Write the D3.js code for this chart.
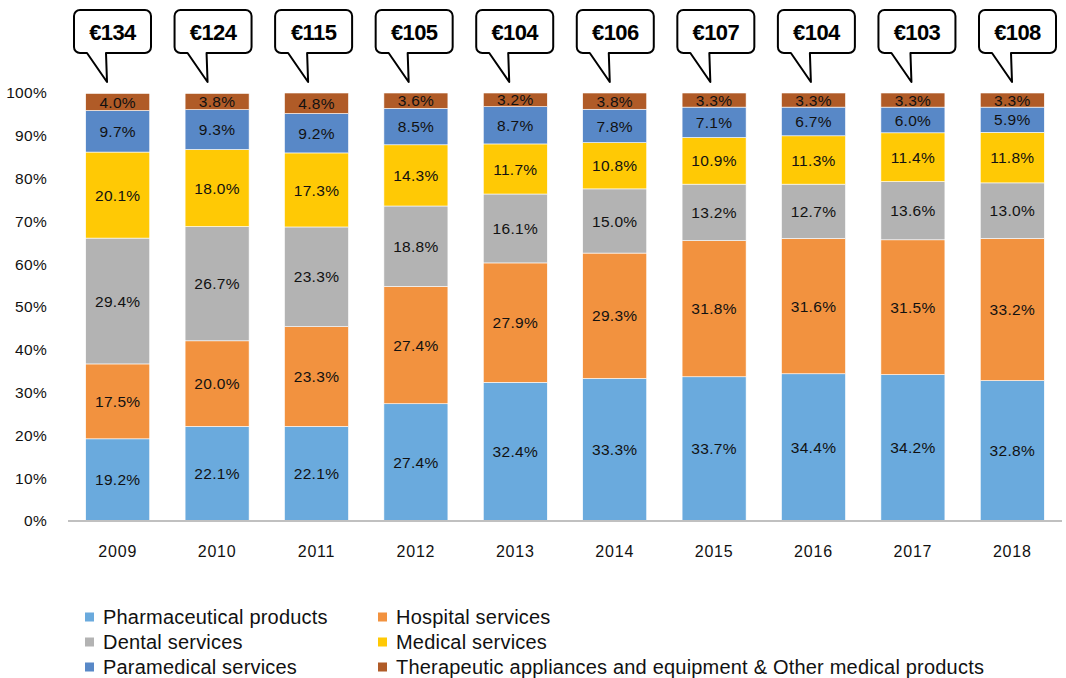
<!DOCTYPE html>
<html>
<head>
<meta charset="utf-8">
<script src="https://cdn.jsdelivr.net/npm/d3@7"></script>
<style>
  body { margin: 0; background: #fff; }
  svg { font-family: "Liberation Sans", Arial, Helvetica, sans-serif; }
</style>
</head>
<body>
<svg id="chart" width="1066" height="678"></svg>
<script>
// data
const years = ["2009", "2010", "2011", "2012", "2013", "2014", "2015", "2016", "2017", "2018"];
const spending = [134, 124, 115, 105, 104, 106, 107, 104, 103, 108];   // euro per capita (bubbles)
const categories = [
    "Pharmaceutical products",
    "Hospital services",
    "Dental services",
    "Medical services",
    "Paramedical services",
    "Therapeutic appliances and equipment & Other medical products"
];
const pharmaceutical = [19.2, 22.1, 22.1, 27.4, 32.4, 33.3, 33.7, 34.4, 34.2, 32.8];
const hospital = [17.5, 20.0, 23.3, 27.4, 27.9, 29.3, 31.8, 31.6, 31.5, 33.2];
const dental = [29.4, 26.7, 23.3, 18.8, 16.1, 15.0, 13.2, 12.7, 13.6, 13.0];
const medical = [20.1, 18.0, 17.3, 14.3, 11.7, 10.8, 10.9, 11.3, 11.4, 11.8];
const paramedical = [9.7, 9.3, 9.2, 8.5, 8.7, 7.8, 7.1, 6.7, 6.0, 5.9];
const therapeutic = [4.0, 3.8, 4.8, 3.6, 3.2, 3.8, 3.3, 3.3, 3.3, 3.3];
const yTicks = [0, 10, 20, 30, 40, 50, 60, 70, 80, 90, 100];

const series = [pharmaceutical, hospital, dental, medical, paramedical, therapeutic];
const colors = ["#6aaadd", "#f2923f", "#b3b3b3", "#ffc905", "#5888c7", "#b05b27"];

const svg = d3.select("#chart");
const margin = { top: 93, left: 68, right: 4, bottom: 157 };
const width = 1066 - margin.left - margin.right;
const height = 678 - margin.top - margin.bottom;

const chart = svg.append("g")
    .attr("transform", `translate(${margin.left},${margin.top})`);

const x = d3.scaleBand().domain(years).range([0, width]).paddingInner(0.356).paddingOuter(0.178);
const y = d3.scaleLinear().domain([0, 100]).range([height, 0]);

// stack rows
const rows = years.map((yr, i) => {
    const r = { year: yr };
    categories.forEach((c, k) => r[c] = series[k][i]);
    return r;
});
const stacked = d3.stack().keys(categories)(rows);

// y axis labels (no line)
chart.selectAll(".ytick")
    .data(yTicks)
    .join("text")
    .attr("class", "ytick")
    .attr("x", -21)
    .attr("y", d => y(d))
    .attr("dy", "0.35em")
    .attr("text-anchor", "end")
    .attr("font-size", 15.5)
    .attr("letter-spacing", "0.3px")
    .attr("fill", "#111")
    .text(d => d + "%");

// bars
const layers = chart.selectAll(".layer")
    .data(stacked)
    .join("g")
    .attr("class", "layer")
    .attr("fill", (d, i) => colors[i]);

layers.selectAll("rect")
    .data(d => d)
    .join("rect")
    .attr("x", d => x(d.data.year))
    .attr("y", d => y(d[1]))
    .attr("width", x.bandwidth())
    .attr("height", d => y(d[0]) - y(d[1]))
    .attr("stroke", "#fff")
    .attr("stroke-width", 0.6);

// segment labels
layers.selectAll("text")
    .data((d, i) => d.map(v => ({ v: v, val: v[1] - v[0] })))
    .join("text")
    .attr("x", d => x(d.v.data.year) + x.bandwidth() / 2)
    .attr("y", d => y((d.v[0] + d.v[1]) / 2))
    .attr("dy", "0.36em")
    .attr("text-anchor", "middle")
    .attr("font-size", 15.5)
    .attr("letter-spacing", "0.3px")
    .attr("fill", "#111")
    .text(d => d.val.toFixed(1) + "%");

// x axis line
chart.append("line")
    .attr("x1", 0).attr("x2", width)
    .attr("y1", y(0)).attr("y2", y(0))
    .attr("stroke", "#c0c0c0")
    .attr("stroke-width", 2);

// year labels
chart.selectAll(".xtick")
    .data(years)
    .join("text")
    .attr("class", "xtick")
    .attr("x", d => x(d) + x.bandwidth() / 2)
    .attr("y", height + 30)
    .attr("dy", "0.35em")
    .attr("text-anchor", "middle")
    .attr("font-size", 16)
    .attr("letter-spacing", "0.8px")
    .attr("fill", "#111")
    .text(d => d);

// speech bubbles with euro amount (slightly wider spread than the bars)
const xb = d3.scalePoint().domain(years).range([112.5, 1017.5]);
const bw = 77, bh = 43, btop = 10, r = 6;
const bubbles = svg.selectAll(".bubble")
    .data(years.map((yr, i) => ({ year: yr, amount: spending[i] })))
    .join("g")
    .attr("class", "bubble")
    .attr("transform", d => `translate(${xb(d.year) - bw / 2},${btop})`);

bubbles.append("path")
    .attr("d", () => {
        const p = d3.path();
        p.moveTo(r, 0);
        p.lineTo(bw - r, 0);
        p.arcTo(bw, 0, bw, r, r);
        p.lineTo(bw, bh - r);
        p.arcTo(bw, bh, bw - r, bh, r);
        p.lineTo(32, bh);
        p.lineTo(33, 72);   // tail tip
        p.lineTo(13, bh);
        p.lineTo(r, bh);
        p.arcTo(0, bh, 0, bh - r, r);
        p.lineTo(0, r);
        p.arcTo(0, 0, r, 0, r);
        p.closePath();
        return p.toString();
    })
    .attr("fill", "#fff")
    .attr("stroke", "#000")
    .attr("stroke-width", 2)
    .attr("stroke-linejoin", "round");

bubbles.append("text")
    .attr("x", bw / 2)
    .attr("y", 22)
    .attr("dy", "0.36em")
    .attr("text-anchor", "middle")
    .attr("font-size", 22)
    .attr("font-weight", "bold")
    .attr("letter-spacing", "-0.6px")
    .attr("fill", "#000")
    .text(d => "€" + d.amount);

// legend
const legend = svg.append("g").attr("class", "legend");
const items = legend.selectAll("g")
    .data(categories)
    .join("g")
    .attr("transform", (d, i) => `translate(${i % 2 === 0 ? 85 : 378},${617 + Math.floor(i / 2) * 25})`);

items.append("rect")
    .attr("x", 0).attr("y", -4.5)
    .attr("width", 9).attr("height", 9)
    .attr("fill", (d, i) => colors[i]);

items.append("text")
    .attr("x", 18)
    .attr("dy", "0.35em")
    .attr("font-size", 20)
    .attr("letter-spacing", "0.2px")
    .attr("fill", "#111")
    .text(d => d);
</script>
</body>
</html>
